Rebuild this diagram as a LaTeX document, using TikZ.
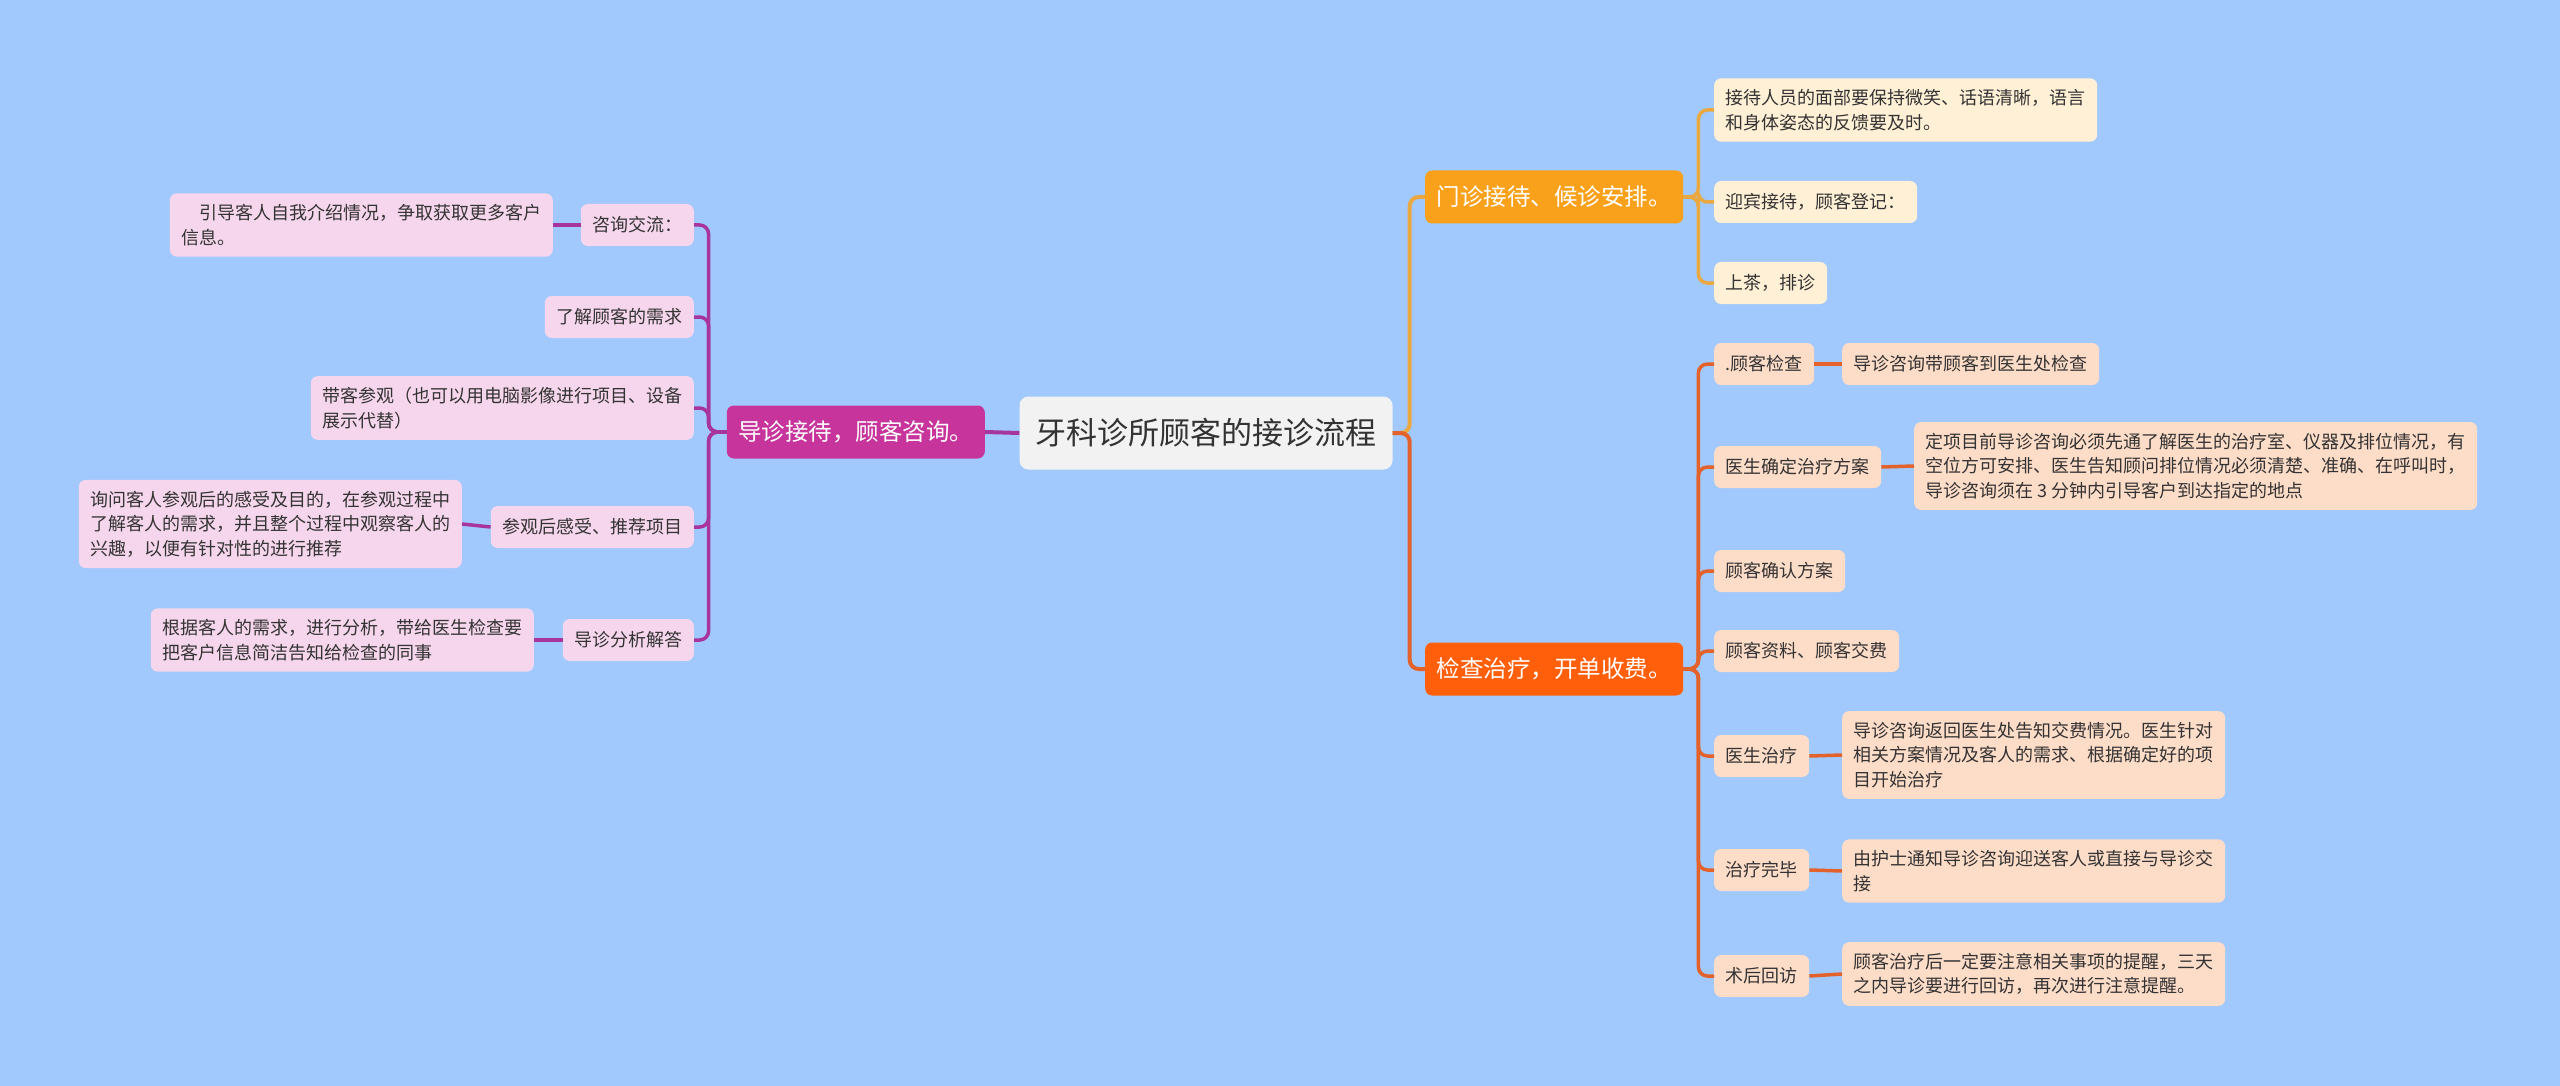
\documentclass[tikz,border=0pt]{standalone}
\usepackage{fontspec}
\setmainfont{Noto Sans CJK SC}
\definecolor{bgblue}{HTML}{A1C9FD}
\definecolor{rootfill}{HTML}{F2F2F2}
\definecolor{txtdark}{HTML}{333333}
\definecolor{magfill}{HTML}{C7349B}
\definecolor{magline}{HTML}{A8359E}
\definecolor{pinkfill}{HTML}{F6D6EC}
\definecolor{orgfill}{HTML}{F9A11B}
\definecolor{orgline}{HTML}{E9A840}
\definecolor{creamfill}{HTML}{FFF0D6}
\definecolor{redfill}{HTML}{FF5F0A}
\definecolor{redline}{HTML}{E3622B}
\definecolor{peachfill}{HTML}{FDDCC8}
\tikzset{
  leaf/.style={rounded corners=7pt, align=left, inner xsep=11.5pt, inner ysep=11pt,
    minimum height=42pt, text=txtdark, font=\fontsize{18}{24.5}\selectfont},
  pinkleaf/.style={leaf, fill=pinkfill, anchor=east},
  creamleaf/.style={leaf, fill=creamfill, anchor=west},
  peachleaf/.style={leaf, fill=peachfill, anchor=west},
  branch/.style={rounded corners=7pt, text=white, inner xsep=11.5pt, minimum height=53pt,
    font=\fontsize{23.5}{28}\selectfont},
  root/.style={rounded corners=9pt, fill=rootfill, text=txtdark, inner xsep=16pt,
    minimum height=73pt, font=\fontsize{31}{36}\selectfont},
  conn/.style={line width=3.5pt, rounded corners=9pt},
}

\begin{document}
\begin{tikzpicture}[x=1pt,y=-1pt]
\fill[bgblue] (0,0) rectangle (2560,1086);
%\draw[gray!35] (0,0) grid[step=100] (2560,1086);

\node[root] (root) at (1206,433) {牙科诊所顾客的接诊流程};

\node[branch, fill=magfill, anchor=east] (guide) at (985,432) {导诊接待，顾客咨询。};
\node[branch, fill=orgfill, anchor=west] (reception) at (1425,197) {门诊接待、候诊安排。};
\node[branch, fill=redfill, anchor=west] (treatment) at (1425,669) {检查治疗，开单收费。};

% left side
\node[pinkleaf] (talk) at (694,225) {咨询交流：};
\node[pinkleaf] (talknote) at (553,225) {\hspace*{1em}引导客人自我介绍情况，争取获取更多客户\\信息。};
\node[pinkleaf] (needs) at (694,317) {了解顾客的需求};
\node[pinkleaf] (tour) at (694,408) {带客参观（也可以用电脑影像进行项目、设备\\展示代替）};
\node[pinkleaf] (feel) at (694,527) {参观后感受、推荐项目};
\node[pinkleaf] (feelnote) at (462,524) {询问客人参观后的感受及目的，在参观过程中\\了解客人的需求，并且整个过程中观察客人的\\兴趣，以便有针对性的进行推荐};
\node[pinkleaf] (answer) at (694,640) {导诊分析解答};
\node[pinkleaf] (answernote) at (534,640) {根据客人的需求，进行分析，带给医生检查要\\把客户信息简洁告知给检查的同事};

% right side, top
\node[creamleaf] (smile) at (1714,110) {接待人员的面部要保持微笑、话语清晰，语言\\和身体姿态的反馈要及时。};
\node[creamleaf] (welcome) at (1714,202) {迎宾接待，顾客登记：};
\node[creamleaf] (tea) at (1714,283) {上茶，排诊};

% right side, bottom
\node[peachleaf] (check) at (1714,364) {.顾客检查};
\node[peachleaf] (checknote) at (1842,364) {导诊咨询带顾客到医生处检查};
\node[peachleaf] (plan) at (1714,467) {医生确定治疗方案};
\node[peachleaf] (plannote) at (1914,466) {定项目前导诊咨询必须先通了解医生的治疗室、仪器及排位情况，有\\空位方可安排、医生告知顾问排位情况必须清楚、准确、在呼叫时，\\导诊咨询须在 3 分钟内引导客户到达指定的地点};
\node[peachleaf] (confirm) at (1714,571) {顾客确认方案};
\node[peachleaf] (pay) at (1714,651) {顾客资料、顾客交费};
\node[peachleaf] (cure) at (1714,756) {医生治疗};
\node[peachleaf] (curenote) at (1842,755) {导诊咨询返回医生处告知交费情况。医生针对\\相关方案情况及客人的需求、根据确定好的项\\目开始治疗};
\node[peachleaf] (done) at (1714,870) {治疗完毕};
\node[peachleaf] (donenote) at (1842,871) {由护士通知导诊咨询迎送客人或直接与导诊交\\接};
\node[peachleaf] (visit) at (1714,976) {术后回访};
\node[peachleaf] (visitnote) at (1842,974) {顾客治疗后一定要注意相关事项的提醒，三天\\之内导诊要进行回访，再次进行注意提醒。};

\draw[conn, magline, line width=4pt] (root.west) -- (guide.east);
\draw[conn, orgline, line width=4pt] (root.east) -- ++(17,0) |- (reception.west);
\draw[conn, redline, line width=4pt] (root.east) -- ++(17,0) |- (treatment.west);

\foreach \n in {talk,needs,tour,feel,answer}
  \draw[conn, magline] (guide.west) -- ++(-18,0) |- (\n.east);
\draw[conn, magline] (talk.west) -- (talknote.east);
\draw[conn, magline] (feel.west) -- (feelnote.east);
\draw[conn, magline] (answer.west) -- (answernote.east);

\foreach \n in {smile,welcome,tea}
  \draw[conn, orgline] (reception.east) -- ++(15,0) |- (\n.west);

\foreach \n in {check,plan,confirm,pay,cure,done,visit}
  \draw[conn, redline] (treatment.east) -- ++(15,0) |- (\n.west);
\draw[conn, redline] (check.east) -- (checknote.west);
\draw[conn, redline] (plan.east) -- (plannote.west);
\draw[conn, redline] (cure.east) -- (curenote.west);
\draw[conn, redline] (done.east) -- (donenote.west);
\draw[conn, redline] (visit.east) -- (visitnote.west);

\end{tikzpicture}
\end{document}
